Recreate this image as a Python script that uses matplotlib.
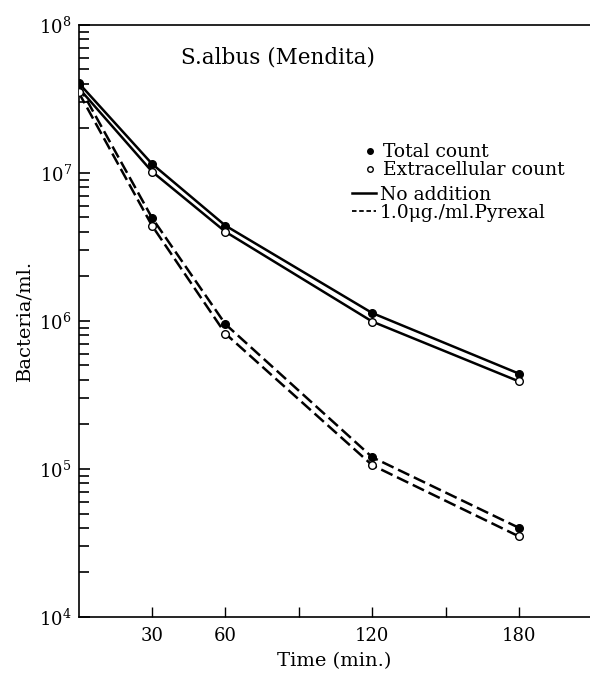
import numpy as np
import matplotlib
matplotlib.use("Agg")
import matplotlib.pyplot as plt
from matplotlib.lines import Line2D
from matplotlib.ticker import FixedLocator, FixedFormatter, LogLocator, NullFormatter

# bacterial counts (per ml) against time (min)
time = [0, 30, 60, 120, 180]
ctrl_total = [4.05e7, 1.15e7, 4.4e6, 1.13e6, 4.4e5]
ctrl_extra = [3.75e7, 1.02e7, 4.0e6, 9.9e5, 3.9e5]
pyr_total = [3.9e7, 4.97e6, 9.5e5, 1.2e5, 4.0e4]
pyr_extra = [3.5e7, 4.4e6, 8.2e5, 1.06e5, 3.5e4]

xticks = [30, 60, 90, 120, 150, 180]
xticklabels = ["30", "60", "", "120", "", "180"]

plt.rcParams["font.family"] = ["DejaVu Serif"]
plt.rcParams["mathtext.fontset"] = "dejavuserif"

fig = plt.figure(figsize=(5.9, 6.73), dpi=100)
ax = fig.add_axes([0.1332, 0.0832, 0.8668, 0.8800])

lw = 1.8
ms = 5.5
dash = (0, (5, 2))
ax.plot(time, ctrl_total, color="k", lw=lw, marker="o", ms=ms, mfc="k", zorder=3)
ax.plot(time, ctrl_extra, color="k", lw=lw, marker="o", ms=ms, mfc="white", zorder=3)
ax.plot(time, pyr_total, color="k", lw=lw, ls=dash, marker="o", ms=ms, mfc="k", zorder=3)
ax.plot(time, pyr_extra, color="k", lw=lw, ls=dash, marker="o", ms=ms, mfc="white", zorder=3)

ax.set_yscale("log")
ax.set_ylim(1e4, 1e8)
ax.set_xlim(0, 209)

ax.xaxis.set_major_locator(FixedLocator(xticks))
ax.xaxis.set_major_formatter(FixedFormatter(xticklabels))
ax.yaxis.set_major_locator(LogLocator(base=10, numticks=10))
ax.yaxis.set_minor_locator(LogLocator(base=10, subs=np.arange(2, 10), numticks=10))
ax.yaxis.set_minor_formatter(NullFormatter())

ax.tick_params(axis="x", direction="in", length=7, width=1.0, labelsize=13, pad=7)
ax.tick_params(axis="y", which="major", direction="in", length=8, width=1.2, labelsize=13, pad=5)
ax.tick_params(axis="y", which="minor", direction="in", length=7, width=1.2)

ax.spines["right"].set_visible(False)
for s in ["left", "top", "bottom"]:
    ax.spines[s].set_linewidth(1.2)

ax.set_xlabel("Time (min.)", fontsize=14, labelpad=5)
ax.set_ylabel("Bacteria/ml.", fontsize=14, labelpad=4)

ax.text(0.39, 0.945, "S.albus (Mendita)", transform=ax.transAxes, fontsize=15.5,
        ha="center", va="center")

# symbol key
marker_handles = [
    Line2D([], [], color="k", ls="", marker="o", ms=4, mfc="k"),
    Line2D([], [], color="k", ls="", marker="o", ms=4, mfc="white"),
]
leg1 = ax.legend(marker_handles, ["Total count", "Extracellular count"],
                 loc="upper left", bbox_to_anchor=(0.556, 0.800), frameon=False,
                 fontsize=13.5, handlelength=0.8, handletextpad=0.25,
                 labelspacing=0.0, borderpad=0, borderaxespad=0)
ax.add_artist(leg1)

line_handles = [
    Line2D([], [], color="k", lw=1.8),
    Line2D([], [], color="k", lw=1.3, ls=(0, (2.5, 1.5))),
]
ax.legend(line_handles, ["No addition", "1.0\u03bcg./ml.Pyrexal"],
          loc="upper left", bbox_to_anchor=(0.534, 0.728), frameon=False,
          fontsize=13.5, handlelength=1.3, handletextpad=0.2,
          labelspacing=0.0, borderpad=0, borderaxespad=0)

fig.savefig("out.png", dpi=100)
